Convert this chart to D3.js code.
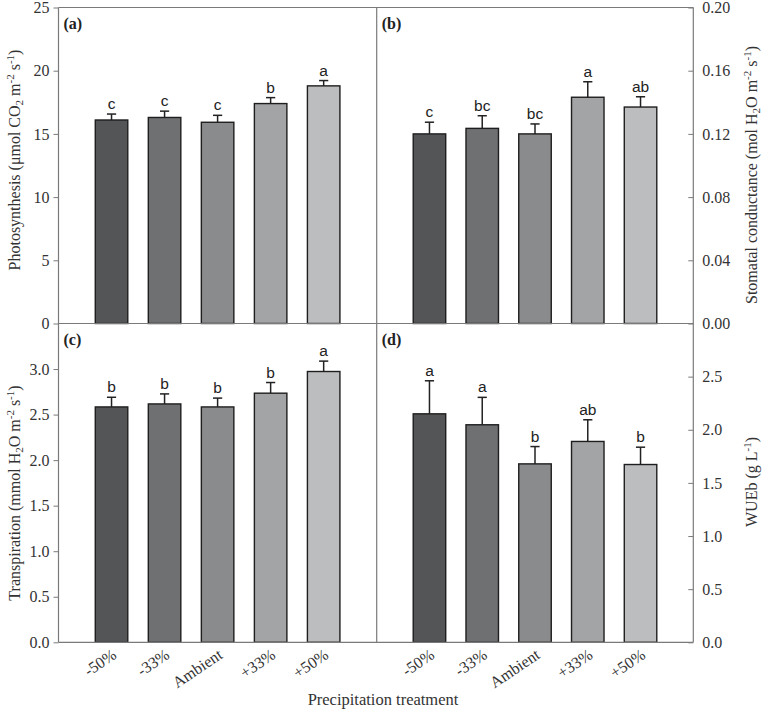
<!DOCTYPE html>
<html><head><meta charset="utf-8">
<script src="https://cdn.jsdelivr.net/npm/d3@7"></script>
<style>body{margin:0;background:#fff}svg{display:block}</style>
</head><body>
<svg id="chart" width="772" height="711"></svg>
<script>
const categories = ["-50%","-33%","Ambient","+33%","+50%"];
const barColors = ["#545557","#6f7072","#8a8b8d","#a3a4a6","#bcbdbf"];

const photo = [16.1,16.3,15.92,17.4,18.8];
const photoSE = [0.47,0.5,0.55,0.47,0.42];
const photoLetters = ["c","c","c","b","a"];
const photoTicks = [0,5,10,15,20,25];

const gs = [0.120,0.1235,0.120,0.1432,0.137];
const gsSE = [0.0074,0.008,0.0063,0.0098,0.0065];
const gsLetters = ["c","bc","bc","a","ab"];
const gsTicks = [0,0.04,0.08,0.12,0.16,0.20];

const trans = [2.584,2.617,2.584,2.735,2.973];
const transSE = [0.106,0.11,0.097,0.117,0.114];
const transLetters = ["b","b","b","b","a"];
const transTicks = [0,0.5,1.0,1.5,2.0,2.5,3.0];

const wue = [2.15,2.047,1.679,1.89,1.673];
const wueSE = [0.311,0.258,0.163,0.204,0.163];
const wueLetters = ["a","a","b","ab","b"];
const wueTicks = [0,0.5,1.0,1.5,2.0,2.5];

const svg = d3.select("#chart");
const L = 58.5, M = 376.7, R = 693.3, T = 7.5, MID = 323.5, B = 642.3;
const axisColor = "#7a7a7a";
const serif = "'Liberation Serif','Times New Roman',serif";
const sans = "'Liberation Sans',Arial,sans-serif";

function panel(cfg){
  const x = d3.scaleLinear().domain([0,6]).range([cfg.x0,cfg.x1]);
  const y = d3.scaleLinear().domain([0,cfg.max]).range([cfg.y1,cfg.y0]);
  const bw = 32.5;
  const g = svg.append("g");
  const idx = d3.range(cfg.values.length);
  g.selectAll("line.err").data(idx).join("line")
    .attr("x1",i=>x(i+1)).attr("x2",i=>x(i+1))
    .attr("y1",i=>y(cfg.values[i])).attr("y2",i=>y(cfg.values[i]+cfg.se[i]))
    .attr("stroke","#222").attr("stroke-width",1.5);
  g.selectAll("line.cap").data(idx).join("line")
    .attr("x1",i=>x(i+1)-4.6).attr("x2",i=>x(i+1)+4.6)
    .attr("y1",i=>y(cfg.values[i]+cfg.se[i])).attr("y2",i=>y(cfg.values[i]+cfg.se[i]))
    .attr("stroke","#222").attr("stroke-width",1.5);
  g.selectAll("rect").data(idx).join("rect")
    .attr("x",i=>x(i+1)-bw/2).attr("width",bw)
    .attr("y",i=>y(cfg.values[i])).attr("height",i=>y(0)-y(cfg.values[i]))
    .attr("fill",i=>barColors[i]).attr("stroke","#1e1e1e").attr("stroke-width",1.4);
  g.selectAll("text.let").data(idx).join("text")
    .attr("x",i=>x(i+1)).attr("y",i=>y(cfg.values[i]+cfg.se[i])-5)
    .attr("text-anchor","middle").attr("font-family",sans).attr("font-size",15.5)
    .attr("fill","#222").text(i=>cfg.letters[i]);
  const ax = g.append("g");
  if(cfg.side==="left"){
    ax.attr("transform",`translate(${cfg.x0},0)`).call(d3.axisLeft(y).tickValues(cfg.ticks).tickSize(5).tickPadding(4).tickFormat(d3.format(cfg.fmt)));
  } else {
    ax.attr("transform",`translate(${cfg.x1},0)`).call(d3.axisRight(y).tickValues(cfg.ticks).tickSize(-5).tickPadding(9).tickFormat(d3.format(cfg.fmt)));
  }
  ax.select(".domain").remove();
  ax.selectAll("line").attr("stroke",axisColor);
  ax.selectAll("text").attr("font-family",serif).attr("font-size",16).attr("fill","#333");
  g.append("text").attr("x",cfg.x0+5).attr("y",cfg.y0+21)
    .attr("font-family",serif).attr("font-weight","bold").attr("font-size",16).attr("fill","#222").text(cfg.label);
  if(cfg.xlabels){
    g.selectAll("text.xl").data(idx).join("text")
      .attr("transform",i=>`translate(${x(i+1)+6},${cfg.y1+15}) rotate(-34)`)
      .attr("text-anchor","end").attr("font-family",serif).attr("font-size",16).attr("fill","#333")
      .text(i=>categories[i]);
  }
}

panel({x0:L,x1:M,y0:T,y1:MID,max:25,values:photo,se:photoSE,letters:photoLetters,ticks:photoTicks,fmt:"d",side:"left",label:"(a)"});
panel({x0:M,x1:R,y0:T,y1:MID,max:0.20,values:gs,se:gsSE,letters:gsLetters,ticks:gsTicks,fmt:".2f",side:"right",label:"(b)"});
panel({x0:L,x1:M,y0:MID,y1:B,max:3.5,values:trans,se:transSE,letters:transLetters,ticks:transTicks,fmt:".1f",side:"left",label:"(c)",xlabels:true});
panel({x0:M,x1:R,y0:MID,y1:B,max:3.0,values:wue,se:wueSE,letters:wueLetters,ticks:wueTicks,fmt:".1f",side:"right",label:"(d)",xlabels:true});

const fr = svg.append("g").attr("stroke",axisColor).attr("stroke-width",1.2);
[[L,T,R,T],[L,MID,R,MID],[L,B,R,B],[L,T,L,B],[R,T,R,B],[M,T,M,B]].forEach(d=>{
  fr.append("line").attr("x1",d[0]).attr("y1",d[1]).attr("x2",d[2]).attr("y2",d[3]);
});

function title(xc,yc,parts){
  const t = svg.append("text").attr("transform",`translate(${xc},${yc}) rotate(-90)`)
    .attr("text-anchor","middle").attr("font-family",serif).attr("font-size",16).attr("fill","#333");
  parts.forEach(p=>{
    const s = t.append("tspan").text(p[0]);
    if(p[1]==="sub") s.attr("font-size",11).attr("baseline-shift","-3");
    if(p[1]==="sup") s.attr("font-size",11).attr("baseline-shift","6");
  });
}
title(20,160,[["Photosynthesis (μmol CO"],["2","sub"],[" m"],["-2","sup"],[" s"],["-1","sup"],[")"]]);
title(20,493,[["Transpiration (mmol H"],["2","sub"],["O m"],["-2","sup"],[" s"],["-1","sup"],[")"]]);
title(757,175,[["Stomatal conductance (mol H"],["2","sub"],["O m"],["-2","sup"],[" s"],["-1","sup"],[")"]]);
title(757,482,[["WUEb (g L"],["-1","sup"],[")"]]);

svg.append("text").attr("x",383).attr("y",705).attr("text-anchor","middle")
  .attr("font-family",serif).attr("font-size",16.5).attr("fill","#333").text("Precipitation treatment");
</script>
</body></html>
